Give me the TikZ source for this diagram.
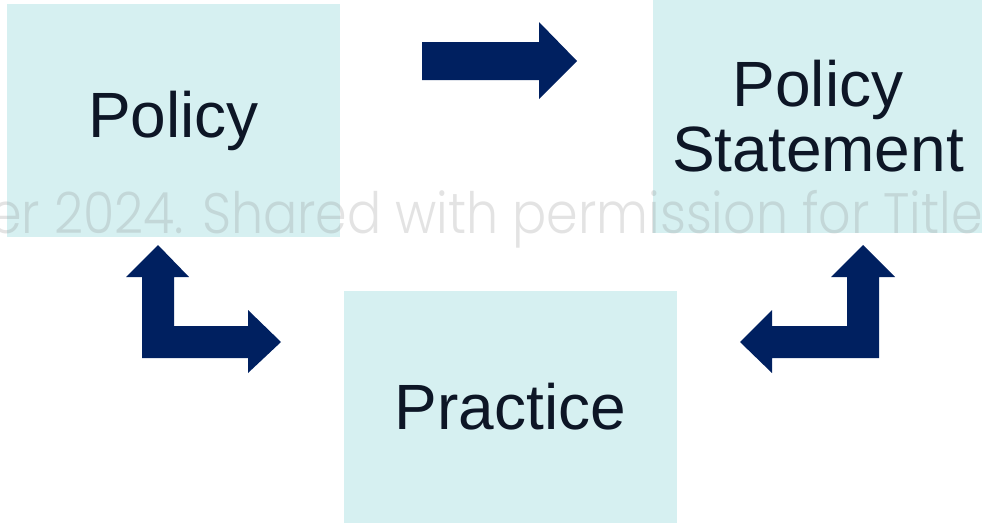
\documentclass[tikz,border=0pt]{standalone}
\usepackage{fontspec}
\setmainfont{Liberation Sans}
\newfontfamily\markfont{Poppins Light}
\definecolor{boxfill}{HTML}{D6F0F1}
\definecolor{navy}{HTML}{002060}
\definecolor{ink}{HTML}{0D1626}
\begin{document}
\begin{tikzpicture}[x=1pt,y=-1pt,
  panel/.style={fill=boxfill, draw=none, inner sep=0pt, text=ink,
    align=center, font=\fontsize{64}{65}\selectfont},
  blockarrow/.style={fill=navy, draw=none}]
\useasboundingbox (0,0) rectangle (982,523);

% three panels
\node[panel, minimum width=333pt, minimum height=233pt] (policy) at (173.5,120.5) {Policy};
\node[panel, minimum width=330pt, minimum height=233pt] (statement) at (818,116.5) {Policy\\Statement};
\node[panel, minimum width=333pt, minimum height=232pt] (practice) at (510.5,407) {Practice};

% watermark line across the middle
\begin{scope}
\clip (0,0) rectangle (982,523);
\node[anchor=base west, inner sep=0pt, text=gray, opacity=0.22,
  font=\markfont\fontsize{57}{57}\selectfont] (mark) at (-10,233)
  {\scalebox{0.89}[1]{er 2024. Shared with permission for Title}};
\end{scope}

% straight arrow: Policy to Policy Statement
\fill[blockarrow] (422,42) -- (539,42) -- (539,22) -- (577,61) -- (539,99)
  -- (539,80) -- (422,80) -- cycle;

% bent arrow between Policy and Practice
\fill[blockarrow] (142,358) -- (142,277) -- (126,277) -- (158,245) -- (189,277)
  -- (174,277) -- (174,326) -- (248,326) -- (248,310) -- (281,342)
  -- (248,373) -- (248,358) -- cycle;

% bent arrow between Policy Statement and Practice
\fill[blockarrow] (879,358) -- (879,277) -- (895,277) -- (863,245) -- (831,277)
  -- (847,277) -- (847,326) -- (772,326) -- (772,310) -- (740,342)
  -- (772,373) -- (772,358) -- cycle;
\end{tikzpicture}
\end{document}
